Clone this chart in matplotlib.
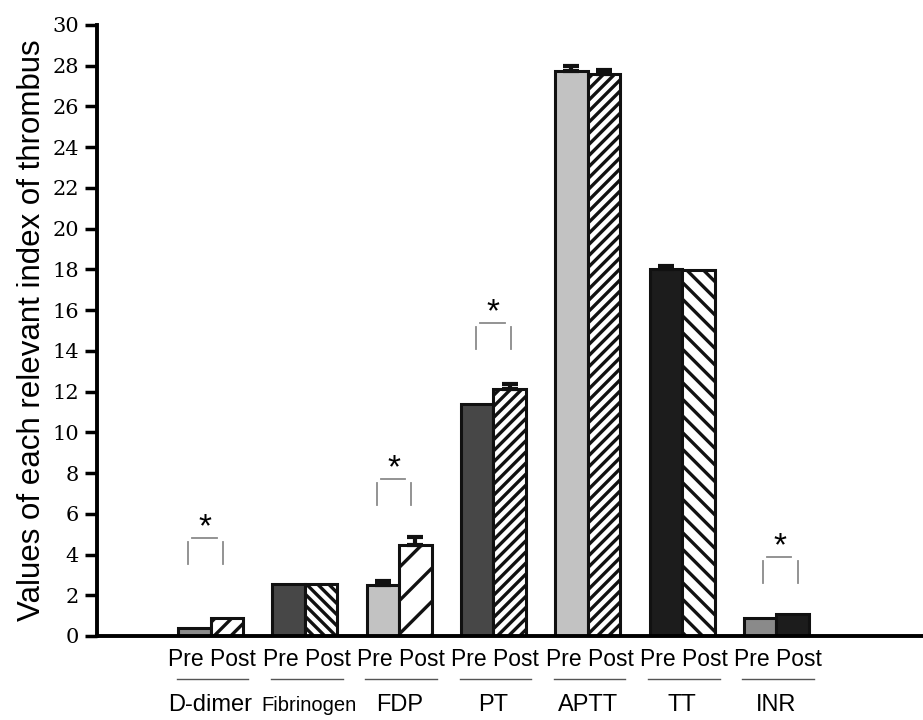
import numpy as np
import matplotlib
matplotlib.use('Agg')
import matplotlib.pyplot as plt

# data
categories = ['D-dimer', 'Fibrinogen', 'FDP', 'PT', 'APTT', 'TT', 'INR']
pre_values = [0.40, 2.55, 2.50, 11.40, 27.75, 18.00, 0.90]
post_values = [0.90, 2.55, 4.45, 12.15, 27.60, 17.95, 1.10]
pre_err = [0.0, 0.0, 0.20, 0.0, 0.22, 0.18, 0.0]
post_err = [0.0, 0.0, 0.40, 0.20, 0.18, 0.0, 0.0]

pre_colors = ['#8a8a8a', '#474747', '#c2c2c2', '#474747', '#c2c2c2', '#1c1c1c', '#8a8a8a']
post_colors = ['white', 'white', 'white', 'white', 'white', 'white', '#1c1c1c']
post_hatches = ['//', '\\\\\\', '/', '///', '///', '\\\\', '']

# significance marks: group index, base of the bracket, sideways shift
sig_groups = [0, 2, 3, 6]
sig_base = [3.53, 6.43, 14.09, 2.60]
sig_shift = [-0.055, -0.055, 0.0, 0.04]

yticks = list(range(0, 31, 2))

plt.rcParams['hatch.linewidth'] = 2.4
plt.rcParams['hatch.color'] = '#111111'

fig = plt.figure(figsize=(9.23, 7.2), dpi=100)
ax = fig.add_axes([0.1051, 0.1167, 0.8949, 0.8486])

x = np.arange(len(categories))
w = 0.345

ax.bar(x - w / 2, pre_values, w, color=pre_colors, edgecolor='#111111', linewidth=2.2, zorder=2)
for i in range(len(categories)):
    ax.bar(x[i] + w / 2, post_values[i], w, color=post_colors[i], edgecolor='#111111',
           linewidth=2.2, hatch=post_hatches[i] or None, zorder=2)

# upper error bars only
for xs, vals, errs in [(x - w / 2, pre_values, pre_err), (x + w / 2, post_values, post_err)]:
    for xi, v, e in zip(xs, vals, errs):
        if e > 0:
            ax.errorbar(xi, v, yerr=[[0], [e]], fmt='none', ecolor='#111111',
                        elinewidth=3, capsize=6, capthick=3, zorder=3)

# significance brackets
for g, b, s in zip(sig_groups, sig_base, sig_shift):
    c = x[g] + s
    ax.plot([c - 0.185, c - 0.185], [b, b + 1.08], color='#8a8a8a', lw=1.3, zorder=1)
    ax.plot([c + 0.185, c + 0.185], [b, b + 1.08], color='#8a8a8a', lw=1.3, zorder=1)
    ax.plot([c - 0.14, c + 0.12], [b + 1.30, b + 1.30], color='#8a8a8a', lw=1.3, zorder=1)
    ax.text(c, b + 1.78, '*', ha='center', va='center', fontsize=24,
            family=['Liberation Sans', 'DejaVu Sans'])

ax.set_xlim(-1.204, 7.555)
ax.set_ylim(0, 30)
ax.set_yticks(yticks)
ax.set_yticklabels([str(t) for t in yticks], family=['DejaVu Serif'], fontsize=15)
ax.set_xticks([])

for side in ['top', 'right']:
    ax.spines[side].set_visible(False)
ax.spines['left'].set_linewidth(2.8)
ax.spines['bottom'].set_linewidth(2.8)
ax.tick_params(axis='y', direction='out', length=9, width=2.5, pad=4)

ax.set_ylabel('Values of each relevant index of thrombus', fontsize=22.5,
              family=['Liberation Sans', 'DejaVu Sans'], labelpad=4)

# Pre / Post labels, underline and category names below the axis
tr = ax.get_xaxis_transform()
for i, name in enumerate(categories):
    ax.text(x[i] + 0.02, -0.039, 'Pre Post', transform=tr, ha='center', va='center',
            fontsize=16.5, family=['Liberation Sans', 'DejaVu Sans'], clip_on=False)
    ax.plot([x[i] - 0.36, x[i] + 0.40], [-0.070, -0.070], transform=tr, color='#555555',
            lw=1.0, clip_on=False)
    size = 14.5 if name == 'Fibrinogen' else 17
    ax.text(x[i] + (0.04 if name == 'Fibrinogen' else 0), -0.113, name, transform=tr,
            ha='center', va='center', fontsize=size,
            family=['Liberation Sans', 'DejaVu Sans'], clip_on=False)

fig.savefig('out.png', dpi=100)
